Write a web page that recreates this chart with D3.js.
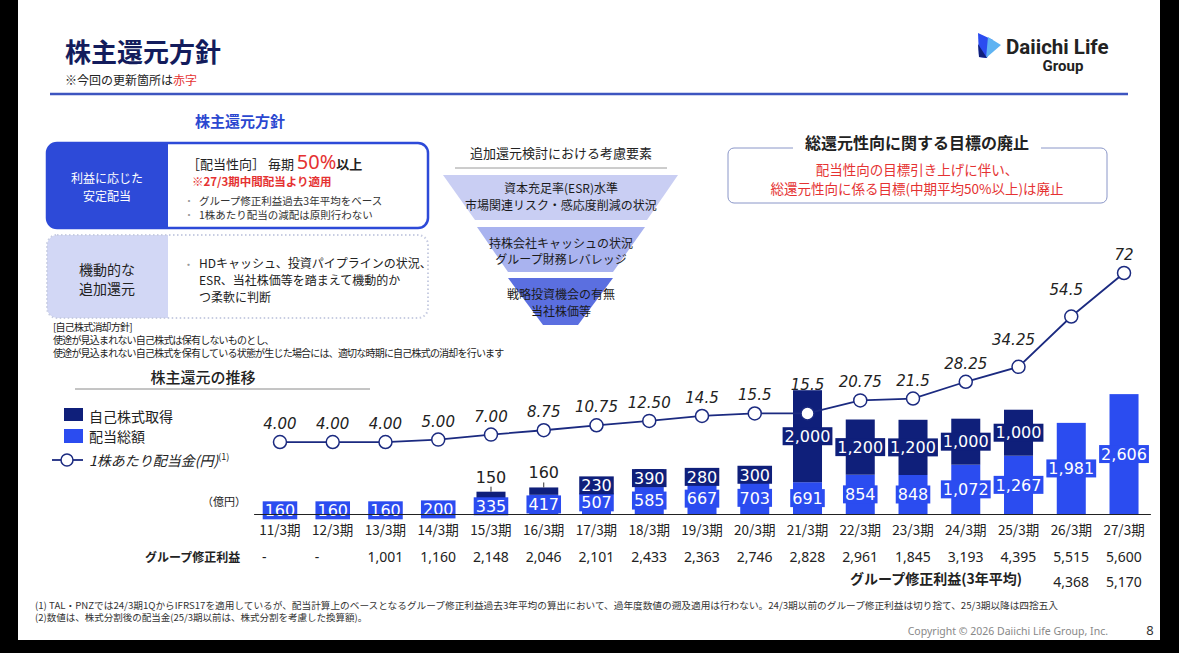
<!DOCTYPE html>
<html lang="ja">
<head>
<meta charset="UTF-8">
<title>株主還元方針</title>
<script src="https://d3js.org/d3.v7.min.js"></script>
<style>
  body { margin: 0; background: #fff; }
  svg { display: block; font-family: "Noto Sans CJK JP", "Noto Sans", sans-serif; }
  .num { font-family: "DejaVu Sans", sans-serif; }
</style>
</head>
<body>
<svg id="chart" width="1179" height="653"></svg>
<script>
// ---- data ----
const categories = ["11/3期", "12/3期", "13/3期", "14/3期", "15/3期", "16/3期", "17/3期", "18/3期", "19/3期",
  "20/3期", "21/3期", "22/3期", "23/3期", "24/3期", "25/3期", "26/3期", "27/3期"];
// 配当総額 (億円)
const dividend = [160, 160, 160, 200, 335, 417, 507, 585, 667, 703, 691, 854, 848, 1072, 1267, 1981, 2606];
// 自己株式取得 (億円)
const buyback = [0, 0, 0, 0, 150, 160, 230, 390, 280, 300, 2000, 1200, 1200, 1000, 1000, 0, 0];
// 1株あたり配当金 (円)
const dps = [4, 4, 4, 5, 7, 8.75, 10.75, 12.5, 14.5, 15.5, 15.5, 20.75, 21.5, 28.25, 34.25, 54.5, 72];
const dpsLabels = ["4.00", "4.00", "4.00", "5.00", "7.00", "8.75", "10.75", "12.50", "14.5", "15.5", "15.5",
  "20.75", "21.5", "28.25", "34.25", "54.5", "72"];
// グループ修正利益
const profit = ["-", "-", "1,001", "1,160", "2,148", "2,046", "2,101", "2,433", "2,363", "2,746", "2,828",
  "2,961", "1,845", "3,193", "4,395", "5,515", "5,600"];
// グループ修正利益(3年平均)
const profitAvg = ["", "", "", "", "", "", "", "", "", "", "", "", "", "", "", "4,368", "5,170"];

const svg = d3.select('#chart');
const navy = '#0f1f7a';
const blue = '#2b4cf0';
const lineCol = '#1b2a80';
const red = '#e53232';

// ---- header ----
svg.append('text').attr('x', 65).attr('y', 62).attr('font-size', 26).attr('font-weight', 700)
  .attr('fill', '#131c5c').text('株主還元方針');
const sub = svg.append('text').attr('x', 65).attr('y', 85).attr('font-size', 12).attr('fill', '#222');
sub.append('tspan').text('※今回の更新箇所は');
sub.append('tspan').attr('fill', red).text('赤字');
svg.append('line').attr('x1', 50).attr('x2', 1128).attr('y1', 94).attr('y2', 94)
  .attr('stroke', '#3d55c0').attr('stroke-width', 2.5);

// logo
const logo = svg.append('g');
logo.append('polygon').attr('points', '978,33 993,40 987,58 979,57').attr('fill', blue);
logo.append('polygon').attr('points', '988,37 1001,45 986,58').attr('fill', '#5fb3f2');
logo.append('polygon').attr('points', '978,44 987,58 979,57').attr('fill', navy);
logo.append('text').attr('x', 1006).attr('y', 54).attr('font-family', 'Roboto, sans-serif')
  .attr('font-size', 20.5).attr('font-weight', 700).attr('fill', '#222').text('Daiichi Life');
logo.append('text').attr('x', 1063).attr('y', 71).attr('text-anchor', 'middle').attr('font-family', 'Roboto, sans-serif')
  .attr('font-size', 15).attr('font-weight', 700).attr('fill', '#222').text('Group');

// ---- left policy boxes ----
svg.append('text').attr('x', 240).attr('y', 127).attr('text-anchor', 'middle').attr('font-size', 15)
  .attr('font-weight', 700).attr('fill', '#2b48d0').text('株主還元方針');

const defs = svg.append('defs');
defs.append('clipPath').attr('id', 'box1').append('rect')
  .attr('x', 47).attr('y', 143).attr('width', 381).attr('height', 85).attr('rx', 10);
defs.append('clipPath').attr('id', 'box2').append('rect')
  .attr('x', 47).attr('y', 235).attr('width', 381).attr('height', 83).attr('rx', 10);

svg.append('rect').attr('x', 47).attr('y', 143).attr('width', 121).attr('height', 85)
  .attr('fill', '#2d4ad8').attr('clip-path', 'url(#box1)');
svg.append('rect').attr('x', 47).attr('y', 143).attr('width', 381).attr('height', 85).attr('rx', 10)
  .attr('fill', 'none').attr('stroke', '#2d4ad8').attr('stroke-width', 2.5);
svg.append('rect').attr('x', 47).attr('y', 235).attr('width', 121).attr('height', 83)
  .attr('fill', '#d2d7f5').attr('clip-path', 'url(#box2)');
svg.append('rect').attr('x', 47).attr('y', 235).attr('width', 381).attr('height', 83).attr('rx', 10)
  .attr('fill', 'none').attr('stroke', '#c8cde2').attr('stroke-width', 2).attr('stroke-dasharray', '1.5,2.5');

[['利益に応じた', 183], ['安定配当', 201]].forEach(([t, y]) => {
  svg.append('text').attr('x', 107).attr('y', y).attr('text-anchor', 'middle').attr('font-size', 12)
    .attr('fill', '#fff').text(t);
});
const l1 = svg.append('text').attr('x', 187).attr('y', 169).attr('font-size', 13).attr('fill', '#222');
l1.append('tspan').text('［配当性向］ 毎期 ');
l1.append('tspan').attr('font-size', 20).attr('fill', red).attr('font-family', 'Noto Sans, sans-serif').text('50%');
l1.append('tspan').attr('font-weight', 700).text('以上');
svg.append('text').attr('x', 192).attr('y', 185.5).attr('font-size', 11.5).attr('font-weight', 700)
  .attr('fill', red).text('※27/3期中間配当より適用');
[['グループ修正利益過去3年平均をベース', 205], ['1株あたり配当の減配は原則行わない', 219]].forEach(([t, y]) => {
  svg.append('text').attr('x', 184).attr('y', y).attr('font-size', 10).attr('fill', '#999').text('・');
  svg.append('text').attr('x', 199).attr('y', y).attr('font-size', 10.5).attr('fill', '#333').text(t);
});

[['機動的な', 275], ['追加還元', 294]].forEach(([t, y]) => {
  svg.append('text').attr('x', 107).attr('y', y).attr('text-anchor', 'middle').attr('font-size', 14)
    .attr('fill', '#222').text(t);
});
svg.append('text').attr('x', 183).attr('y', 268.5).attr('font-size', 11).attr('fill', '#999').text('・');
[['HDキャッシュ、投資パイプラインの状況、', 268], ['ESR、当社株価等を踏まえて機動的か', 285],
  ['つ柔軟に判断', 302]].forEach(([t, y]) => {
  svg.append('text').attr('x', 199).attr('y', y).attr('font-size', 12).attr('fill', '#222').text(t);
});

[['[自己株式消却方針]', 331], ['使途が見込まれない自己株式は保有しないものとし、', 344],
  ['使途が見込まれない自己株式を保有している状態が生じた場合には、適切な時期に自己株式の消却を行います', 357]]
  .forEach(([t, y]) => {
    svg.append('text').attr('x', 53).attr('y', y).attr('font-size', 10).attr('letter-spacing', -0.8)
      .attr('fill', '#222').text(t);
  });

// ---- funnel ----
svg.append('text').attr('x', 561).attr('y', 158).attr('text-anchor', 'middle').attr('font-size', 13)
  .attr('fill', '#222').text('追加還元検討における考慮要素');
svg.append('line').attr('x1', 455).attr('x2', 667).attr('y1', 168).attr('y2', 168)
  .attr('stroke', '#9a9a9a').attr('stroke-width', 1);
const funnel = [
  { pts: '443,175 678,175 647,220 475,220', fill: '#c9cef3', lines: [['資本充足率(ESR)水準', 193], ['市場関連リスク・感応度削減の状況', 210]] },
  { pts: '477,227 645,227 613,272 508,272', fill: '#a9b3ef', lines: [['持株会社キャッシュの状況', 248], ['グループ財務レバレッジ', 264]] },
  { pts: '508,278 613,278 578,325 543,325', fill: '#5b6fe0', lines: [['戦略投資機会の有無', 299], ['当社株価等', 316]] }
];
funnel.forEach(f => {
  svg.append('polygon').attr('points', f.pts).attr('fill', f.fill);
  f.lines.forEach(([t, y]) => {
    svg.append('text').attr('x', 561).attr('y', y).attr('text-anchor', 'middle').attr('font-size', 12)
      .attr('fill', '#1a1a1a').text(t);
  });
});

// ---- right notice box ----
svg.append('rect').attr('x', 728).attr('y', 148).attr('width', 379).attr('height', 55).attr('rx', 6)
  .attr('fill', 'none').attr('stroke', '#8a96c8').attr('stroke-width', 1);
svg.append('rect').attr('x', 793).attr('y', 134).attr('width', 248).attr('height', 20).attr('fill', '#fff');
svg.append('text').attr('x', 917).attr('y', 149).attr('text-anchor', 'middle').attr('font-size', 16)
  .attr('font-weight', 700).attr('fill', '#222').text('総還元性向に関する目標の廃止');
[['配当性向の目標引き上げに伴い、', 175], ['総還元性向に係る目標(中期平均50%以上)は廃止', 194]].forEach(([t, y]) => {
  svg.append('text').attr('x', 917).attr('y', y).attr('text-anchor', 'middle').attr('font-size', 13.5)
    .attr('fill', red).text(t);
});

// ---- chart section ----
svg.append('text').attr('x', 203).attr('y', 383).attr('text-anchor', 'middle').attr('font-size', 15)
  .attr('font-weight', 500).attr('fill', '#222').text('株主還元の推移');
svg.append('line').attr('x1', 75).attr('x2', 370).attr('y1', 389).attr('y2', 389)
  .attr('stroke', '#8a8a8a').attr('stroke-width', 1);

const x = d3.scaleBand().domain(categories).range([253.6, 1150.4]).paddingInner(0.45).paddingOuter(0.225);
const yBar = d3.scaleLinear().domain([0, 3000]).range([514, 514 - 3000 * 0.046]);
const yLine = d3.scaleLinear().domain([0, 72]).range([452, 273]);

const rows = categories.map((c, i) => ({ cat: c, dividend: dividend[i], buyback: buyback[i] }));
const stack = d3.stack().keys(['dividend', 'buyback'])(rows);
const colors = { dividend: blue, buyback: navy };

const barG = svg.append('g');
stack.forEach(layer => {
  barG.selectAll(null)
    .data(layer.filter(d => d.data[layer.key] > 0))
    .join('rect')
    .attr('x', d => x(d.data.cat))
    .attr('y', d => yBar(d[1]))
    .attr('width', x.bandwidth())
    .attr('height', d => yBar(d[0]) - yBar(d[1]))
    .attr('fill', colors[layer.key]);
});

// bar value labels (boxed)
const fmt = d3.format(',');
const labelG = svg.append('g');
stack.forEach(layer => {
  layer.filter(d => d.data[layer.key] > 0).forEach(d => {
    const cx = x(d.data.cat) + x.bandwidth() / 2;
    const top = yBar(d[1]);
    const h = yBar(d[0]) - top;
    if (layer.key === 'buyback' && h < 10) {
      // small buyback: plain label above with a leader
      labelG.append('line').attr('x1', cx).attr('x2', cx).attr('y1', top - 5).attr('y2', top)
        .attr('stroke', '#333').attr('stroke-width', 1);
      labelG.append('text').attr('class', 'num').attr('x', cx).attr('y', top - 9)
        .attr('text-anchor', 'middle').attr('font-size', 16).attr('fill', '#222')
        .text(fmt(d.data[layer.key]));
      return;
    }
    const cy = top + h / 2;
    const g = labelG.append('g');
    const t = g.append('text').attr('class', 'num').attr('x', cx).attr('y', cy).attr('dy', '0.36em')
      .attr('text-anchor', 'middle').attr('font-size', 16).attr('fill', '#fff')
      .text(fmt(d.data[layer.key]));
    const bb = t.node().getBBox();
    g.insert('rect', 'text').attr('x', bb.x - 2).attr('y', cy - 9).attr('width', bb.width + 4).attr('height', 18)
      .attr('fill', colors[layer.key]);
  });
});

// x axis
const axisG = svg.append('g').attr('transform', 'translate(0,514)')
  .call(d3.axisBottom(x).tickSize(0).tickSizeOuter(0).tickPadding(11));
axisG.select('.domain').attr('stroke', '#222').attr('stroke-width', 1);
axisG.selectAll('text').attr('font-family', '"Noto Sans CJK JP", sans-serif').attr('font-size', 13.5)
  .attr('fill', '#222');

// DPS line
const cxOf = c => x(c) + x.bandwidth() / 2;
svg.append('path').datum(dps)
  .attr('d', d3.line().x((d, i) => cxOf(categories[i])).y(d => yLine(d)))
  .attr('fill', 'none').attr('stroke', lineCol).attr('stroke-width', 1.8);
svg.append('g').selectAll('circle').data(dps).join('circle')
  .attr('cx', (d, i) => cxOf(categories[i])).attr('cy', d => yLine(d)).attr('r', 6.5)
  .attr('fill', '#fff').attr('stroke', lineCol).attr('stroke-width', 1.5);
// labels sit above the point; lifted clear of the bar top or of a steep rise to the next point
const steep = i => i < dps.length - 1 && yLine(dps[i]) - yLine(dps[i + 1]) > 30;
svg.append('g').selectAll('text').data(dps).join('text')
  .attr('class', 'num')
  .attr('x', (d, i) => cxOf(categories[i]) - (steep(i) ? 5 : 0))
  .attr('y', (d, i) => Math.min(yLine(d) - (steep(i) ? 22 : 13), yBar(dividend[i] + buyback[i])))
  .attr('text-anchor', 'middle').attr('font-size', 15).attr('font-style', 'italic').attr('fill', '#222')
  .text((d, i) => dpsLabels[i]);

// legend
svg.append('rect').attr('x', 64).attr('y', 408).attr('width', 19).attr('height', 13).attr('fill', navy);
svg.append('text').attr('x', 89).attr('y', 422).attr('font-size', 14).attr('fill', '#222').text('自己株式取得');
svg.append('rect').attr('x', 64).attr('y', 429).attr('width', 19).attr('height', 14).attr('fill', blue);
svg.append('text').attr('x', 89).attr('y', 442).attr('font-size', 14).attr('fill', '#222').text('配当総額');
svg.append('line').attr('x1', 52).attr('x2', 83).attr('y1', 460).attr('y2', 460)
  .attr('stroke', lineCol).attr('stroke-width', 1.8);
svg.append('circle').attr('cx', 67).attr('cy', 460).attr('r', 6).attr('fill', '#fff')
  .attr('stroke', lineCol).attr('stroke-width', 1.5);
const lg = svg.append('text').attr('x', 89).attr('y', 466).attr('font-size', 14).attr('fill', '#222');
lg.append('tspan').attr('font-style', 'italic').text('1株あたり配当金(円)');
lg.append('tspan').attr('font-size', 9).attr('dy', -6).text('(1)');
svg.append('text').attr('x', 224).attr('y', 506).attr('text-anchor', 'middle').attr('font-size', 11)
  .attr('fill', '#222').text('（億円）');

// profit rows
svg.append('text').attr('x', 145).attr('y', 562).attr('font-size', 12).attr('font-weight', 700)
  .attr('fill', '#222').text('グループ修正利益');
svg.append('g').selectAll('text').data(profit).join('text')
  .attr('x', (d, i) => cxOf(categories[i]) - 18).attr('y', 562)
  .attr('font-family', '"Noto Sans", sans-serif').attr('font-size', 14).attr('fill', '#222')
  .text(d => d);
svg.append('text').attr('x', 1022).attr('y', 584).attr('text-anchor', 'end').attr('font-size', 14)
  .attr('font-weight', 700).attr('fill', '#222').text('グループ修正利益(3年平均)');
svg.append('g').selectAll('text').data(profitAvg).join('text')
  .attr('x', (d, i) => cxOf(categories[i]) - 18).attr('y', 587)
  .attr('font-family', '"Noto Sans", sans-serif').attr('font-size', 14).attr('fill', '#222')
  .text(d => d);

// footnotes
svg.append('text').attr('x', 35).attr('y', 609).attr('font-size', 9.5).attr('fill', '#333')
  .attr('textLength', 1023).attr('lengthAdjust', 'spacingAndGlyphs')
  .text('(1) TAL・PNZでは24/3期1QからIFRS17を適用しているが、配当計算上のベースとなるグループ修正利益過去3年平均の算出において、過年度数値の遡及適用は行わない。24/3期以前のグループ修正利益は切り捨て、25/3期以降は四捨五入');
svg.append('text').attr('x', 35).attr('y', 621).attr('font-size', 9.5).attr('fill', '#333')
  .text('(2)数値は、株式分割後の配当金(25/3期以前は、株式分割を考慮した換算額)。');
svg.append('text').attr('x', 1108).attr('y', 635).attr('text-anchor', 'end').attr('font-size', 10.5)
  .attr('font-family', '"Noto Sans", sans-serif').attr('fill', '#888').text('Copyright © 2026 Daiichi Life Group, Inc.');
svg.append('text').attr('x', 1150).attr('y', 635).attr('text-anchor', 'middle').attr('font-size', 13)
  .attr('font-family', '"Noto Sans", sans-serif').attr('fill', '#333').text('8');

// black frame edges of the screenshot
svg.append('rect').attr('x', 0).attr('y', 0).attr('width', 18).attr('height', 653).attr('fill', '#000');
svg.append('rect').attr('x', 1160).attr('y', 0).attr('width', 19).attr('height', 653).attr('fill', '#000');
svg.append('rect').attr('x', 0).attr('y', 640).attr('width', 1179).attr('height', 13).attr('fill', '#000');
</script>
</body>
</html>
